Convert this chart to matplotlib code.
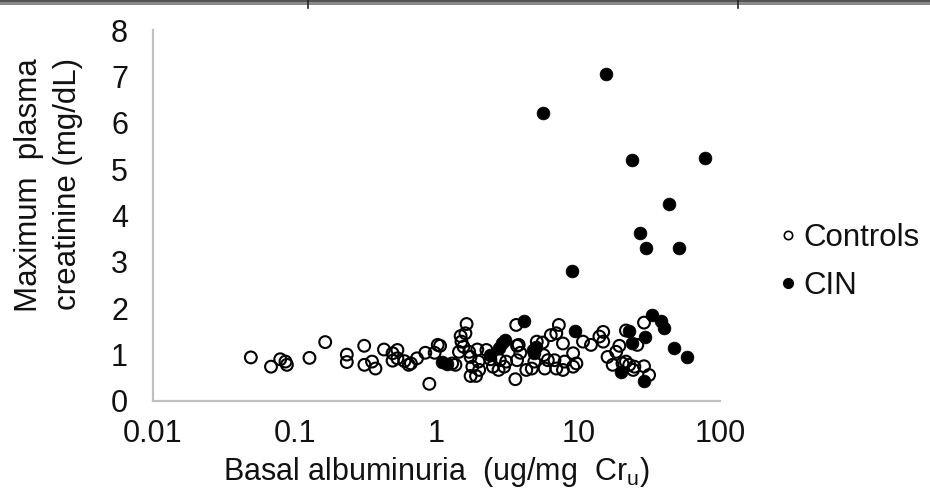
import matplotlib
matplotlib.use("Agg")
import matplotlib.pyplot as plt
from matplotlib.lines import Line2D
from matplotlib.patches import Rectangle
from matplotlib.ticker import FixedLocator, FixedFormatter, NullLocator

plt.rcParams['font.family'] = ['Liberation Sans', 'DejaVu Sans']

controls_x = [0.049, 0.068, 0.079, 0.086, 0.088, 0.127, 0.164, 0.233, 0.233, 0.309,
              0.31, 0.351, 0.371, 0.426, 0.49, 0.53, 0.49, 0.53, 0.594, 0.637,
              0.66, 0.728, 0.834, 0.89, 0.97, 1.02, 1.06, 1.29, 1.36,
              1.48, 1.6, 1.63, 1.5, 1.55, 1.44, 1.7, 1.74, 1.94, 1.98,
              1.79, 1.74, 1.9, 2.0, 2.25, 2.4, 2.5, 2.74, 2.8, 3.0,
              3.1, 3.65, 3.7, 3.8, 3.9, 3.6, 4.3, 4.7, 4.9, 5.1,
              5.6, 5.7, 5.8, 6.1, 6.4, 7.0, 7.3, 7.8, 6.8, 7.0,
              7.8, 8.0, 9.2, 9.2, 3.7,
              9.7, 10.8, 12.3, 14.1, 15.0, 15.0, 16.1, 17.5, 18.5, 19.5,
              20.5, 21.7, 22.9, 21.7, 24.4, 24.9, 26.1, 29.1, 29.1, 31.6]
controls_y = [0.94, 0.74, 0.90, 0.85, 0.78, 0.93, 1.27, 1.00, 0.84, 1.19,
              0.78, 0.85, 0.70, 1.11, 1.03, 1.10, 0.87, 0.92, 0.86, 0.78,
              0.81, 0.92, 1.04, 0.37, 1.04, 1.21, 1.19, 0.81, 0.78,
              1.40, 1.46, 1.66, 1.28, 1.17, 1.06, 1.06, 0.95, 1.11, 0.85,
              0.74, 0.54, 0.54, 0.67, 1.10, 0.90, 0.74, 0.67, 0.88, 0.74,
              0.85, 1.64, 0.88, 1.21, 1.04, 0.47, 0.67, 0.70, 0.85, 1.28,
              1.26, 0.99, 0.70, 0.88, 1.42, 1.46, 1.64, 1.24, 0.88, 0.70,
              0.67, 0.85, 1.03, 0.74, 1.19,
              0.81, 1.28, 1.21, 1.39, 1.49, 1.28, 0.95, 0.78, 1.06, 1.19,
              0.81, 0.85, 0.78, 1.52, 0.67, 0.74, 1.21, 1.69, 0.75, 0.56]

cin_x = [15.7, 5.6, 24.1, 78.5, 44.0, 27.2, 30.2, 51.0, 9.1,
         1.1, 1.19, 2.4, 2.74, 2.9, 3.05, 4.15, 4.8, 5.0, 4.9, 9.5,
         22.9, 24.1, 29.6, 32.9, 38.6, 40.1, 47.1, 58.5, 20.0, 29.1]
cin_y = [7.05, 6.2, 5.19, 5.25, 4.24, 3.63, 3.29, 3.29, 2.80,
         0.85, 0.80, 0.99, 1.14, 1.24, 1.31, 1.73, 1.11, 1.17, 1.03, 1.50,
         1.52, 1.26, 1.39, 1.85, 1.73, 1.57, 1.14, 0.94, 0.63, 0.44]

x_ticks = [0.01, 0.1, 1, 10, 100]
x_tick_labels = ["0.01", "0.1", "1", "10", "100"]
y_ticks = [0, 1, 2, 3, 4, 5, 6, 7, 8]

TXT = '#111111'
fig = plt.figure(figsize=(9.3, 4.95), dpi=100)
ax = fig.add_axes([153/930, 1 - 401/495, (720-153)/930, (401-30)/495])

ax.scatter(controls_x, controls_y, s=72, facecolors='none', edgecolors='black',
           linewidths=1.5, zorder=3)
ax.scatter(cin_x, cin_y, s=85, facecolors='black', edgecolors='black',
           linewidths=0.5, zorder=4)

ax.set_xscale('log')
ax.set_xlim(0.01, 100)
ax.set_ylim(0, 8)
ax.xaxis.set_major_locator(FixedLocator(x_ticks))
ax.xaxis.set_major_formatter(FixedFormatter(x_tick_labels))
ax.xaxis.set_minor_locator(NullLocator())
ax.set_yticks(y_ticks)
ax.tick_params(axis='both', length=0, labelsize=22, colors=TXT)
ax.tick_params(axis='x', pad=13)
ax.tick_params(axis='y', pad=18)

for side in ['top', 'right']:
    ax.spines[side].set_visible(False)
for side in ['left', 'bottom']:
    ax.spines[side].set_color('#c0c0c0')
    ax.spines[side].set_linewidth(1.6)

fig.text(436/930, 1 - 472/495, "Basal albuminuria  (ug/mg  Cr$_\\mathregular{u}$)",
         ha='center', va='center', fontsize=22, color=TXT)
fig.text(29/930, 1 - 185/495, "Maximum  plasma", rotation=90,
         ha='center', va='center', fontsize=22.5, color=TXT)
fig.text(68/930, 1 - 184/495, "creatinine (mg/dL)", rotation=90,
         ha='center', va='center', fontsize=22.5, color=TXT)

handles = [Line2D([], [], linestyle='none', marker='o', markersize=6,
                  markerfacecolor='none', markeredgecolor='black', markeredgewidth=1.2),
           Line2D([], [], linestyle='none', marker='o', markersize=7,
                  markerfacecolor='black', markeredgecolor='black')]
fig.legend(handles, ["Controls", "CIN"], loc='center left',
           bbox_to_anchor=(767/930, 1 - 262/495), frameon=False, fontsize=22.5,
           handlelength=0.35, handletextpad=0.3, labelspacing=0.6,
           borderpad=0, labelcolor=TXT)

# top border strip of the original figure
fig.add_artist(Rectangle((0, 1 - 5/495), 1, 5/495, transform=fig.transFigure,
                         facecolor='#8a8a8a', edgecolor='none'))
fig.add_artist(Rectangle((0, 1 - 1.5/495), 1, 1.5/495, transform=fig.transFigure,
                         facecolor='#555555', edgecolor='none'))
for xp in [308, 738]:
    fig.add_artist(Line2D([xp/930, xp/930], [1, 1 - 8/495], transform=fig.transFigure,
                          color='#222222', linewidth=1.2))

fig.savefig("out.png", dpi=100)
